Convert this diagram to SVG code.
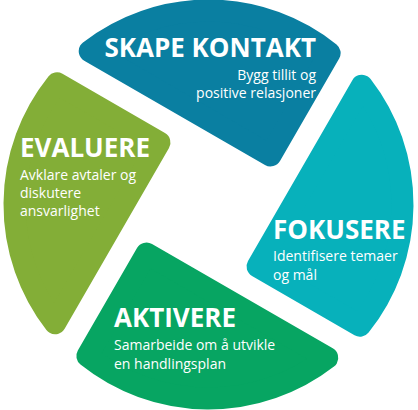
<svg xmlns="http://www.w3.org/2000/svg" width="418" height="410" viewBox="0 0 418 410">
<style>
.seg{stroke-width:22;stroke-linejoin:round}
.t{font-family:"Open Sans","Noto Sans",sans-serif;font-weight:700;font-size:26px;fill:#fff}
.s{font-family:"Open Sans","Noto Sans",sans-serif;font-size:14px;fill:#fff}
</style>
<defs>
<path id="wedge" d="M270.47,155.47 L89.73,51.11 A194,194 0 0 1 329.65,52.98 Z"/>
</defs>
<rect width="418" height="410" fill="#fff"/>
<g id="connectors"/>
<g id="skape-kontakt">
<use href="#wedge" class="seg" fill="#0a7fa1" stroke="#0a7fa1"/>
<text class="t" x="316" y="57" text-anchor="end">SKAPE KONTAKT</text>
<text class="s" x="316" y="80" text-anchor="end">Bygg tillit og</text>
<text class="s" x="316" y="98" text-anchor="end">positive relasjoner</text>
</g>
<g id="fokusere">
<use href="#wedge" class="seg" fill="#07b1bb" stroke="#07b1bb" transform="rotate(90 208.5 204.5)"/>
<text class="t" x="273" y="239">FOKUSERE</text>
<text class="s" x="273" y="261">Identifisere temaer</text>
<text class="s" x="273" y="280">og mål</text>
</g>
<g id="aktivere">
<use href="#wedge" class="seg" fill="#07a562" stroke="#07a562" transform="rotate(180 208.5 204.5)"/>
<text class="t" x="114" y="327">AKTIVERE</text>
<text class="s" x="114" y="350">Samarbeide om å utvikle</text>
<text class="s" x="114" y="369">en handlingsplan</text>
</g>
<g id="evaluere">
<use href="#wedge" class="seg" fill="#83ae37" stroke="#83ae37" transform="rotate(270 208.5 204.5)"/>
<text class="t" x="20" y="157">EVALUERE</text>
<text class="s" x="20" y="180">Avklare avtaler og</text>
<text class="s" x="20" y="198">diskutere</text>
<text class="s" x="20" y="216">ansvarlighet</text>
</g>
</svg>
